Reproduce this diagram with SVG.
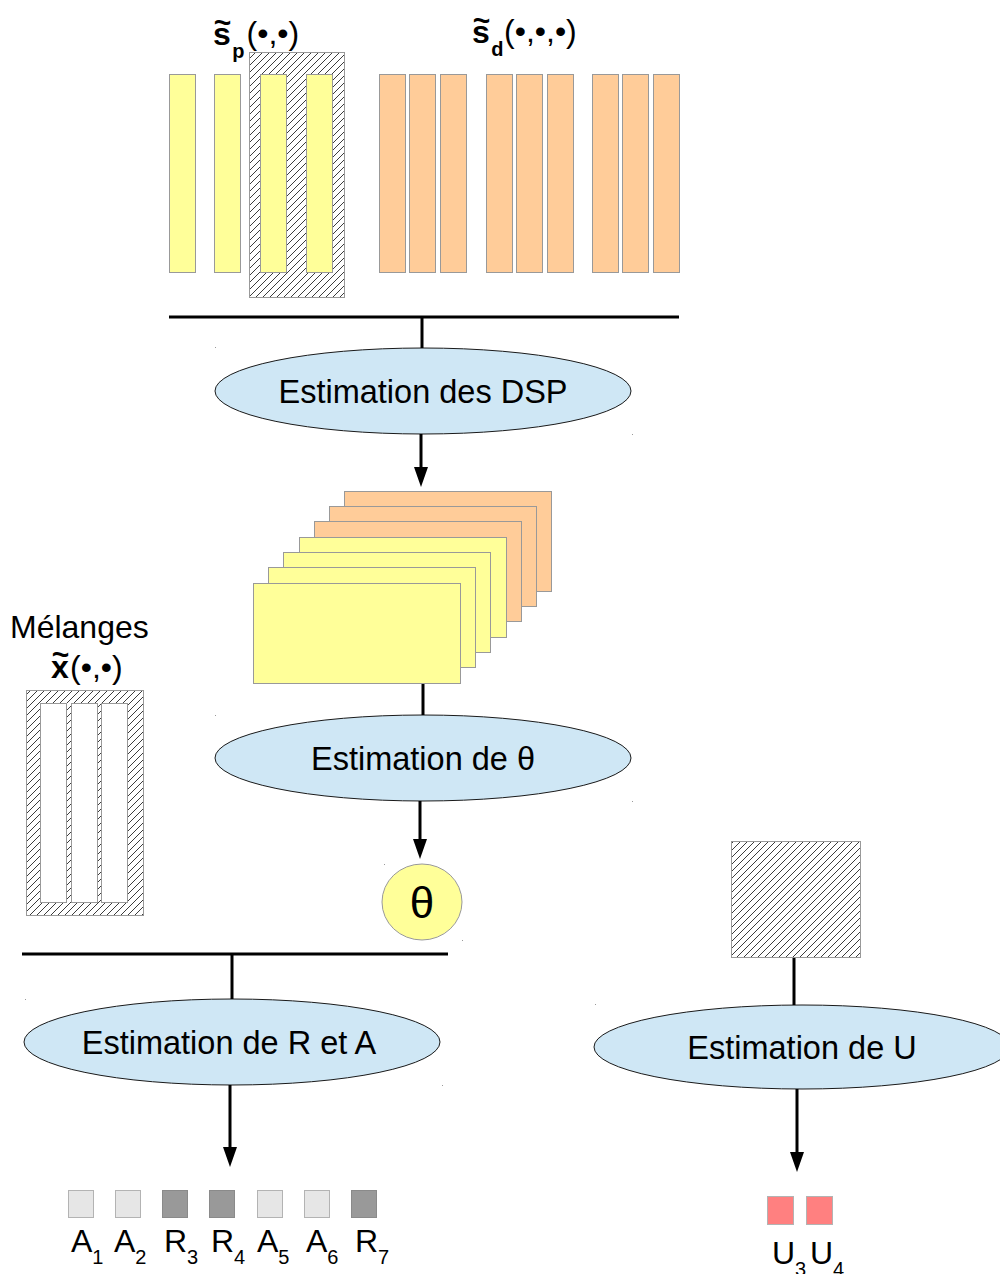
<svg xmlns="http://www.w3.org/2000/svg" width="1000" height="1274" viewBox="0 0 1000 1274">
  <style>
    text { font-family: "Liberation Sans", Arial, sans-serif; fill: #000; }
    .lbl { font-size: 32.5px; text-anchor: middle; }
    .big { font-size: 32px; }
    .bold { font-weight: bold; }
    .reg { font-weight: normal; }
    .sub { font-size: 20px; }
    .tilde { font-size: 30px; font-weight: bold; }
    .ysrc { fill: #FFFF99; stroke: #999; stroke-width: 1; }
    .osrc { fill: #FFCC99; stroke: #999; stroke-width: 1; }
    .hatch { fill: url(#hatch); stroke: #999; stroke-width: 1; }
    .blank { fill: #FFFFFF; stroke: #999; stroke-width: 1; }
    .proc { fill: #CFE7F5; stroke: #1A1A1A; stroke-width: 1; }
    .wire { stroke: #000; stroke-width: 3; fill: none; }
    .arrow { stroke: #000; stroke-width: 3; fill: none; marker-end: url(#head); }
    .light { fill: #E6E6E6; stroke: #B3B3B3; stroke-width: 1; }
    .dark { fill: #999999; stroke: #8A8A8A; stroke-width: 1; }
    .red { fill: #FF8080; stroke: #B3B3B3; stroke-width: 1; }
    .dot { fill: #9A9A9A; }
  </style>
  <defs>
    <pattern id="hatch" patternUnits="userSpaceOnUse" width="7" height="7">
      <rect width="7" height="7" fill="#FFFFFF"/>
      <path d="M-1,1 L1,-1 M0,7 L7,0 M6,8 L8,6" stroke="#262626" stroke-width="0.9"/>
    </pattern>
    <marker id="head" markerUnits="userSpaceOnUse" markerWidth="20" markerHeight="14" refX="10" refY="7" orient="auto">
      <path d="M0,0 L20,7 L0,14 z" fill="#000"/>
    </marker>
  </defs>

  <rect width="1000" height="1274" fill="#FFFFFF"/>

  <!-- primary sources s_p -->
  <g id="sources-p">
    <rect class="hatch" x="249.5" y="52.5" width="95" height="245"/>
    <rect class="ysrc" x="169.5" y="74.5" width="26" height="198"/>
    <rect class="ysrc" x="214.5" y="74.5" width="26" height="198"/>
    <rect class="ysrc" x="260.5" y="74.5" width="26" height="198"/>
    <rect class="ysrc" x="306.5" y="74.5" width="26" height="198"/>
    <text class="big bold" x="213" y="45">s<tspan class="tilde" dx="-17" dy="-12">~</tspan><tspan class="sub" dx="1" dy="25">p</tspan><tspan class="big reg" dx="2" dy="-14">(•,•)</tspan></text>
  </g>

  <!-- secondary sources s_d -->
  <g id="sources-d">
    <rect class="osrc" x="379.5" y="74.5" width="26" height="198"/>
    <rect class="osrc" x="409.5" y="74.5" width="26" height="198"/>
    <rect class="osrc" x="440.5" y="74.5" width="26" height="198"/>
    <rect class="osrc" x="486.5" y="74.5" width="26" height="198"/>
    <rect class="osrc" x="516.5" y="74.5" width="26" height="198"/>
    <rect class="osrc" x="547.5" y="74.5" width="26" height="198"/>
    <rect class="osrc" x="592.5" y="74.5" width="26" height="198"/>
    <rect class="osrc" x="622.5" y="74.5" width="26" height="198"/>
    <rect class="osrc" x="653.5" y="74.5" width="26" height="198"/>
    <text class="big bold" x="472" y="43">s<tspan class="tilde" dx="-17" dy="-12">~</tspan><tspan class="sub" dx="1" dy="25">d</tspan><tspan class="big reg" dx="0.5" dy="-14">(•,•,•)</tspan></text>
  </g>

  <!-- spectral densities stack -->
  <g id="dsp-stack">
    <rect class="osrc" x="344.5" y="491.5" width="207" height="100"/>
    <rect class="osrc" x="329.5" y="506.5" width="207" height="100"/>
    <rect class="osrc" x="314.5" y="521.5" width="207" height="100"/>
    <rect class="ysrc" x="299.5" y="537.5" width="207" height="100"/>
    <rect class="ysrc" x="283.5" y="552.5" width="207" height="100"/>
    <rect class="ysrc" x="268.5" y="567.5" width="207" height="100"/>
    <rect class="ysrc" x="253.5" y="583.5" width="207" height="100"/>
  </g>

  <!-- mixtures -->
  <g id="mixtures">
    <text class="big" x="10" y="638">Mélanges</text>
    <text class="big bold" x="51" y="678">x<tspan class="tilde" dx="-17" dy="-13">~</tspan><tspan class="big reg" dx="0.7" dy="13">(•,•)</tspan></text>
    <rect class="hatch" x="26.5" y="690.5" width="117" height="225"/>
    <rect class="blank" x="40.5" y="703.5" width="26" height="199"/>
    <rect class="blank" x="71.5" y="703.5" width="26" height="199"/>
    <rect class="blank" x="101.5" y="703.5" width="26" height="199"/>
  </g>

  <!-- processing steps -->
  <g id="est-dsp">
    <ellipse class="proc" cx="423" cy="391" rx="208" ry="43"/>
    <text class="lbl" x="423" y="403">Estimation des DSP</text>
  </g>
  <g id="est-theta">
    <ellipse class="proc" cx="423" cy="758" rx="208" ry="43"/>
    <text class="lbl" x="423" y="770">Estimation de θ</text>
  </g>
  <g id="theta">
    <ellipse cx="422" cy="902" rx="40" ry="38" fill="#FFFF99" stroke="#999" stroke-width="1"/>
    <text x="422" y="918" font-size="44" text-anchor="middle">θ</text>
  </g>
  <g id="est-ra">
    <ellipse class="proc" cx="232" cy="1042" rx="208" ry="43"/>
    <text class="lbl" x="229" y="1054">Estimation de R et A</text>
  </g>
  <g id="noise-block">
    <rect class="hatch" x="731.5" y="841.5" width="129" height="116"/>
  </g>
  <g id="est-u">
    <ellipse class="proc" cx="802" cy="1047" rx="208" ry="42"/>
    <text class="lbl" x="802" y="1059">Estimation de U</text>
  </g>

  <!-- outputs R / A -->
  <g id="out-ra">
    <rect class="light" x="68.5" y="1190.5" width="25" height="27"/>
    <rect class="light" x="115.5" y="1190.5" width="25" height="27"/>
    <rect class="dark" x="162.5" y="1190.5" width="25" height="27"/>
    <rect class="dark" x="209.5" y="1190.5" width="25" height="27"/>
    <rect class="light" x="257.5" y="1190.5" width="25" height="27"/>
    <rect class="light" x="304.5" y="1190.5" width="25" height="27"/>
    <rect class="dark" x="351.5" y="1190.5" width="25" height="27"/>
    <text class="big" x="71" y="1252">A<tspan class="sub" dy="12">1</tspan></text>
    <text class="big" x="114" y="1252">A<tspan class="sub" dy="12">2</tspan></text>
    <text class="big" x="164" y="1252">R<tspan class="sub" dy="12">3</tspan></text>
    <text class="big" x="211" y="1252">R<tspan class="sub" dy="12">4</tspan></text>
    <text class="big" x="257" y="1252">A<tspan class="sub" dy="12">5</tspan></text>
    <text class="big" x="306" y="1252">A<tspan class="sub" dy="12">6</tspan></text>
    <text class="big" x="355" y="1252">R<tspan class="sub" dy="12">7</tspan></text>
  </g>

  <!-- outputs U -->
  <g id="out-u">
    <rect class="red" x="767.5" y="1196.5" width="26" height="28"/>
    <rect class="red" x="806.5" y="1196.5" width="26" height="28"/>
    <text class="big" x="772" y="1264">U<tspan class="sub" dy="12">3</tspan></text>
    <text class="big" x="810" y="1264">U<tspan class="sub" dy="12">4</tspan></text>
  </g>

  <!-- connectors -->
  <g id="connectors">
    <line class="wire" x1="169" y1="317" x2="679" y2="317"/>
    <line class="wire" x1="422" y1="317" x2="422" y2="348"/>
    <line class="arrow" x1="421" y1="434" x2="421" y2="477"/>
    <line class="wire" x1="423" y1="684" x2="423" y2="715"/>
    <line class="arrow" x1="420" y1="801" x2="420" y2="849"/>
    <line class="wire" x1="22" y1="954" x2="448" y2="954"/>
    <line class="wire" x1="232" y1="954" x2="232" y2="999"/>
    <line class="arrow" x1="230" y1="1085" x2="230" y2="1157"/>
    <line class="wire" x1="794" y1="958" x2="794" y2="1005"/>
    <line class="arrow" x1="797" y1="1089" x2="797" y2="1162"/>
  </g>

  <!-- small handle marks around the shapes -->
  <g id="marks">
    <rect class="dot" x="215" y="347" width="1" height="1"/>
    <rect class="dot" x="632" y="434" width="1" height="1"/>
    <rect class="dot" x="215" y="715" width="1" height="1"/>
    <rect class="dot" x="632" y="801" width="1" height="1"/>
    <rect class="dot" x="384" y="864" width="1" height="1"/>
    <rect class="dot" x="462" y="940" width="1" height="1"/>
    <rect class="dot" x="25" y="999" width="1" height="1"/>
    <rect class="dot" x="442" y="1085" width="1" height="1"/>
    <rect class="dot" x="595" y="1004" width="1" height="1"/>
  </g>
</svg>
